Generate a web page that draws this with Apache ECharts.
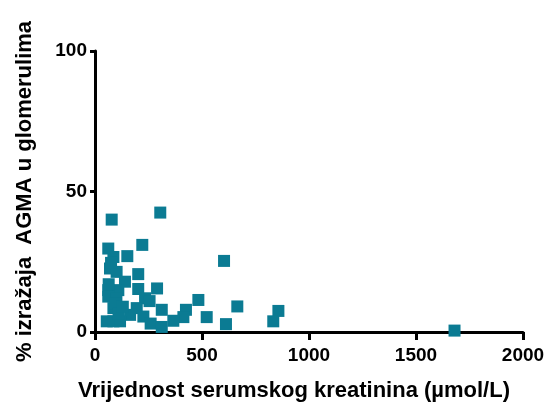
<!DOCTYPE html>
<html><head><meta charset="utf-8">
<script src="https://cdn.jsdelivr.net/npm/echarts@6/dist/echarts.min.js"></script>
<style>html,body{margin:0;padding:0;background:#fff}#c{width:549px;height:407px}</style>
</head><body><div id="c"></div>
<script>
const xTitle = 'Vrijednost serumskog kreatinina (\u00b5mol/L)';
const yTitle = '% izražaja  AGMA u glomerulima';
const xTicks = [0, 500, 1000, 1500, 2000];
const yTicks = [0, 50, 100];
const creatinine = [78, 305, 221, 151, 603, 62, 86, 70, 101, 202, 140, 202, 290, 62, 109, 62, 100, 234, 255, 483, 665, 86, 195, 312, 425, 857, 164, 226, 413, 522, 366, 833, 55, 86, 117, 260, 612, 312, 1680, 75, 64, 95, 110, 130];
const agma = [40, 42.5, 31, 27, 25.3, 29.7, 26.7, 22.6, 21.4, 20.6, 17.9, 15.3, 15.5, 14.9, 14.9, 12.6, 12, 12, 11, 11.4, 9.1, 8.5, 8.5, 7.9, 7.9, 7.5, 6.1, 5.5, 5.3, 5.3, 4, 3.8, 3.8, 3.8, 3.8, 3, 2.8, 1.8, 0.5, 24.6, 17, 10, 6.5, 9];
const pts = creatinine.map((x, i) => [x, agma[i]]);
const font = 'Liberation Sans, Arial, sans-serif';
const chart = echarts.init(document.getElementById('c'));
chart.setOption({
  animation: false,
  grid: {left: 95, right: 26, top: 51, bottom: 73, containLabel: false},
  xAxis: {
    type: 'value', min: xTicks[0], max: xTicks[xTicks.length-1], interval: 500,
    name: xTitle, nameLocation: 'middle', nameGap: 48,
    nameTextStyle: {fontFamily: font, fontWeight: 'bold', fontSize: 22, color: '#000', padding: [0,30,0,0]},
    axisLine: {lineStyle: {color: '#000', width: 3}},
    axisTick: {length: 8, lineStyle: {color: '#000', width: 3}},
    axisLabel: {fontFamily: font, fontWeight: 'bold', fontSize: 19, color: '#000', margin: 14, formatter: v => String(v)},
    splitLine: {show: false}
  },
  yAxis: {
    type: 'value', min: yTicks[0], max: yTicks[yTicks.length-1], interval: 50,
    name: yTitle, nameLocation: 'middle', nameGap: 59,
    nameTextStyle: {fontFamily: font, fontWeight: 'bold', fontSize: 22, color: '#000'},
    axisLine: {lineStyle: {color: '#000', width: 3}},
    axisTick: {length: 5, lineStyle: {color: '#000', width: 3}},
    axisLabel: {fontFamily: font, fontWeight: 'bold', fontSize: 19, color: '#000', margin: 8, formatter: v => String(v)},
    splitLine: {show: false}
  },
  series: [{
    type: 'scatter', data: pts, symbol: 'rect', symbolSize: 12,
    itemStyle: {color: '#0b7b93', opacity: 1}, clip: false
  }]
});
</script></body></html>
